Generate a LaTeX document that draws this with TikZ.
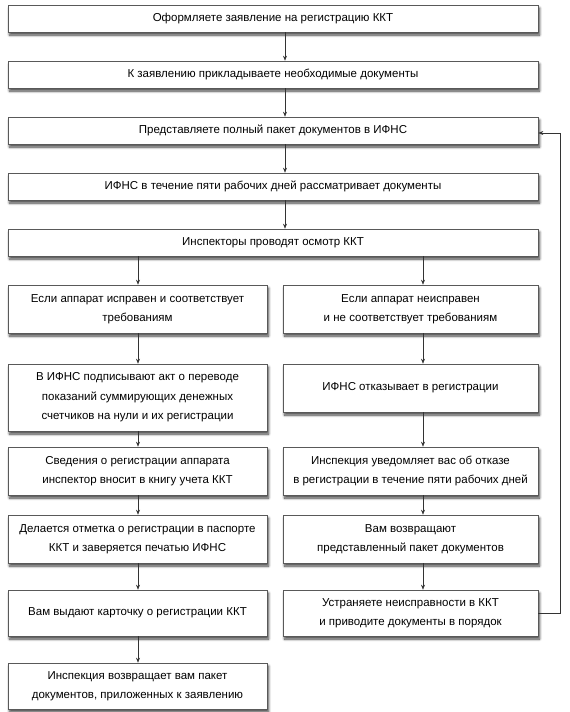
\documentclass[tikz,border=0pt]{standalone}
\usepackage{fontspec}
\setmainfont{Liberation Sans}
\usetikzlibrary{arrows.meta,shadows.blur}
\begin{document}
\begin{tikzpicture}[x=1pt,y=-1pt,
  box/.style={draw=black!65, line width=0.6pt, fill=white, align=center,
    inner sep=0pt, font=\fontsize{11.5}{19.5}\selectfont, text=black,
    blur shadow={shadow xshift=1.5pt, shadow yshift=-3pt, shadow blur radius=2.5pt, shadow blur steps=8, shadow opacity=75}},
  wide/.style={box, minimum width=530pt, minimum height=27pt},
  lbox/.style={box, minimum width=259pt},
  rbox/.style={box, minimum width=255pt},
  arr/.style={draw=black!80, line width=0.5pt, -{Stealth[length=5pt,width=4pt]}},
  ln/.style={draw=black!80, line width=0.5pt}
]
\useasboundingbox (0,0) rectangle (570,712);
\coordinate (cx) at (285,0);
\coordinate (lx) at (138,0);
\coordinate (rx) at (423,0);
\coordinate (fx) at (560,0);

\node[wide] (b1) at (273,18.5) {Оформляете заявление на регистрацию ККТ};
\node[wide] (b2) at (273,74.5) {К заявлению прикладываете необходимые документы};
\node[wide] (b3) at (273,130.5) {Представляете полный пакет документов в ИФНС};
\node[wide] (b4) at (273,186.5) {ИФНС в течение пяти рабочих дней рассматривает документы};
\node[wide] (b5) at (273,242.5) {Инспекторы проводят осмотр ККТ};

\node[lbox, minimum height=48pt] (l1) at (137.5,309) {Если аппарат исправен и соответствует\\требованиям};
\node[lbox, minimum height=67pt] (l2) at (137.5,397.5) {В ИФНС подписывают акт о переводе\\показаний суммирующих денежных\\счетчиков на нули и их регистрации};
\node[lbox, minimum height=48pt] (l3) at (137.5,471) {Сведения о регистрации аппарата\\инспектор вносит в книгу учета ККТ};
\node[lbox, minimum height=48pt] (l4) at (137.5,539) {Делается отметка о регистрации в паспорте\\ККТ и заверяется печатью ИФНС};
\node[lbox, minimum height=46pt] (l5) at (137.5,613) {Вам выдают карточку о регистрации ККТ};
\node[lbox, minimum height=46pt] (l6) at (137.5,686) {Инспекция возвращает вам пакет\\документов, приложенных к заявлению};

\node[rbox, minimum height=48pt] (r1) at (410.5,309) {Если аппарат неисправен\\и не соответствует требованиям};
\node[rbox, minimum height=48pt] (r2) at (410.5,388) {ИФНС отказывает в регистрации};
\node[rbox, minimum height=48pt] (r3) at (410.5,471) {Инспекция уведомляет вас об отказе\\в регистрации в течение пяти рабочих дней};
\node[rbox, minimum height=48pt] (r4) at (410.5,539) {Вам возвращают\\представленный пакет документов};
\node[rbox, minimum height=46pt] (r5) at (410.5,613) {Устраняете неисправности в ККТ\\и приводите документы в порядок};

\draw[arr] (b1.south -| cx) -- (b2.north -| cx);
\draw[arr] (b2.south -| cx) -- (b3.north -| cx);
\draw[arr] (b3.south -| cx) -- (b4.north -| cx);
\draw[arr] (b4.south -| cx) -- (b5.north -| cx);

\draw[arr] (b5.south -| lx) -- (l1.north -| lx);
\draw[arr] (l1.south -| lx) -- (l2.north -| lx);
\draw[arr] (l2.south -| lx) -- (l3.north -| lx);
\draw[arr] (l3.south -| lx) -- (l4.north -| lx);
\draw[arr] (l4.south -| lx) -- (l5.north -| lx);
\draw[arr] (l5.south -| lx) -- (l6.north -| lx);

\draw[arr] (b5.south -| rx) -- (r1.north -| rx);
\draw[arr] (r1.south -| rx) -- (r2.north -| rx);
\draw[arr] (r2.south -| rx) -- (r3.north -| rx);
\draw[arr] (r3.south -| rx) -- (r4.north -| rx);
\draw[arr] (r4.south -| rx) -- (r5.north -| rx);

\draw[arr] (r5.east) -- (r5.east -| fx) -- ([yshift=-2.5pt]b3.east -| fx) -- ([yshift=-2.5pt]b3.east);
\end{tikzpicture}
\end{document}
